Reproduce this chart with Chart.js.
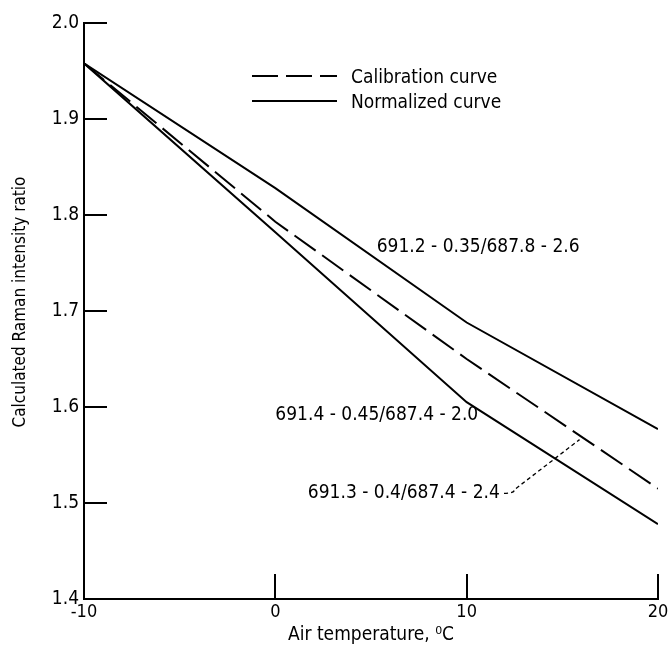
<!DOCTYPE html>
<html>
<head>
<meta charset="utf-8">
<script src="https://cdn.jsdelivr.net/npm/chart.js@4/dist/chart.umd.min.js"></script>
<style>
  html, body { margin: 0; padding: 0; background: #fff; }
  #wrap { width: 668px; height: 649px; }
</style>
</head>
<body>
<div id="wrap"><canvas id="chart" width="668" height="649"></canvas></div>
<script>
  // Air temperature (deg C)
  const temps = [-10, 0, 10, 20];
  // Raman intensity ratio
  const calibration = [1.958, 1.793, 1.650, 1.515];
  const normalizedUpper = [1.958, 1.828, 1.688, 1.577];
  const normalizedLower = [1.958, 1.782, 1.605, 1.478];

  const xTicks = [-10, 0, 10, 20];
  const yTicks = [1.4, 1.5, 1.6, 1.7, 1.8, 1.9, 2.0];

  const legendLabels = ['Calibration curve', 'Normalized curve'];
  const yTitle = 'Calculated Raman intensity ratio';

  const noteTexts = ['691.2 - 0.35/687.8 - 2.6', '691.4 - 0.45/687.4 - 2.0', '691.3 - 0.4/687.4 - 2.4'];
  const noteX = [5.3, 0.0, 1.7];
  const noteY = [1.767, 1.592, 1.510];
  // leader from the third note to the calibration curve
  const leaderX = [11.95, 12.5, 15.9];
  const leaderY = [1.510, 1.514, 1.566];

  const FONT = "'DejaVu Sans Condensed', 'DejaVu Sans', sans-serif";
  const INK = '#000';

  const toPoints = (ys) => temps.map((t, i) => ({ x: t, y: ys[i] }));

  const extras = {
    id: 'extras',
    afterDraw(chart) {
      const { ctx, chartArea } = chart;
      const xs = chart.scales.x;
      const ys = chart.scales.y;
      ctx.save();
      ctx.strokeStyle = INK;
      ctx.fillStyle = INK;
      ctx.lineWidth = 2;

      // inward tick marks
      ctx.beginPath();
      yTicks.forEach(v => {
        const py = Math.round(ys.getPixelForValue(v));
        ctx.moveTo(chartArea.left, py);
        ctx.lineTo(chartArea.left + 23, py);
      });
      xTicks.slice(1).forEach(v => {
        const px = Math.round(xs.getPixelForValue(v));
        ctx.moveTo(px, chartArea.bottom);
        ctx.lineTo(px, chartArea.bottom - 25);
      });
      ctx.stroke();

      // y axis title
      ctx.save();
      ctx.font = '17px ' + FONT;
      ctx.textAlign = 'center';
      ctx.textBaseline = 'middle';
      ctx.translate(21, (chartArea.top + chartArea.bottom) / 2 - 9);
      ctx.rotate(-Math.PI / 2);
      ctx.fillText(yTitle, 0, 0);
      ctx.restore();

      // legend
      ctx.font = '19px ' + FONT;
      ctx.textBaseline = 'middle';
      ctx.textAlign = 'left';
      const lx = chartArea.left + 168;
      const ly = [chartArea.top + 53, chartArea.top + 78];
      legendLabels.forEach((label, i) => {
        const ds = chart.data.datasets[i];
        ctx.setLineDash(ds.borderDash || []);
        ctx.beginPath();
        ctx.moveTo(lx, ly[i]);
        ctx.lineTo(lx + 85, ly[i]);
        ctx.stroke();
        ctx.setLineDash([]);
        ctx.fillText(label, lx + 99, ly[i] + 2);
      });

      // curve notes
      ctx.font = '19px ' + FONT;
      noteTexts.forEach((txt, i) => {
        ctx.fillText(txt, xs.getPixelForValue(noteX[i]), ys.getPixelForValue(noteY[i]));
      });

      // leader line
      ctx.lineWidth = 1.3;
      ctx.setLineDash([4, 3]);
      ctx.beginPath();
      ctx.moveTo(xs.getPixelForValue(leaderX[0]), ys.getPixelForValue(leaderY[0]));
      ctx.quadraticCurveTo(xs.getPixelForValue(leaderX[1]), ys.getPixelForValue(leaderY[0]),
        xs.getPixelForValue(leaderX[1]), ys.getPixelForValue(leaderY[1]));
      ctx.lineTo(xs.getPixelForValue(leaderX[2]), ys.getPixelForValue(leaderY[2]));
      ctx.stroke();
      ctx.restore();
    }
  };

  new Chart(document.getElementById('chart'), {
    type: 'line',
    data: {
      datasets: [
        { label: legendLabels[0], data: toPoints(calibration), borderColor: INK, borderWidth: 2, borderDash: [26, 8], pointRadius: 0, tension: 0 },
        { label: legendLabels[1], data: toPoints(normalizedUpper), borderColor: INK, borderWidth: 2, pointRadius: 0, tension: 0 },
        { label: legendLabels[1] + ' ', data: toPoints(normalizedLower), borderColor: INK, borderWidth: 2, pointRadius: 0, tension: 0 }
      ]
    },
    options: {
      responsive: false,
      animation: false,
      layout: { padding: { top: 23, right: 10, left: 0, bottom: 0 } },
      plugins: { legend: { display: false }, tooltip: { enabled: false } },
      scales: {
        x: {
          type: 'linear',
          min: -10, max: 20,
          afterFit: (s) => { s.height = 50; s.paddingLeft = 0; s.paddingRight = 0; },
          afterBuildTicks: (s) => { s.ticks = xTicks.map(v => ({ value: v })); },
          grid: { display: false, drawTicks: false },
          border: { display: true, color: INK, width: 2 },
          ticks: { color: INK, font: { family: FONT, size: 18 }, padding: 3, maxRotation: 0 },
          title: { display: true, text: 'Air temperature, \u2070C', color: INK, font: { family: FONT, size: 19 }, padding: { bottom: 3, top: 0 } }
        },
        y: {
          min: 1.4, max: 2.0,
          afterFit: (s) => { s.width = 84; },
          afterBuildTicks: (s) => { s.ticks = yTicks.map(v => ({ value: v })); },
          grid: { display: false, drawTicks: false },
          border: { display: true, color: INK, width: 2 },
          ticks: { color: INK, font: { family: FONT, size: 19 }, padding: 5, callback: (v) => Number(v).toFixed(1) },
          title: { display: false }
        }
      }
    },
    plugins: [extras]
  });
</script>
</body>
</html>
